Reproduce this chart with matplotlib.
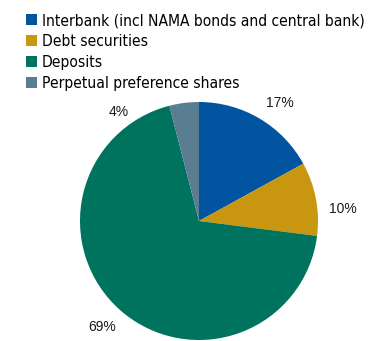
import matplotlib.pyplot as plt
from matplotlib.patches import Patch

categories = [
    "Interbank (incl NAMA bonds and central bank)",
    "Debt securities",
    "Deposits",
    "Perpetual preference shares",
]
shares = [17, 10, 69, 4]
colors = ["#0054A0", "#C8960F", "#00735F", "#5B7D92"]

fig = plt.figure(figsize=(3.79, 3.41), dpi=100)
ax = fig.add_axes([0, 0, 1, 1])

wedges, texts, autotexts = ax.pie(
    shares,
    colors=colors,
    startangle=90,
    counterclock=False,
    center=(199, 120),
    radius=119,
    frame=True,
    autopct="%d%%",
    pctdistance=1.2,
    wedgeprops=dict(linewidth=0),
    textprops=dict(family="Liberation Sans", fontsize=10, color="#1a1a1a"),
)
ax.axis("off")
ax.set_xlim(0, 379)
ax.set_ylim(0, 341)
ax.set_aspect("equal")

# label placement like the spreadsheet default
autotexts[0].set_position((280, 238))
autotexts[1].set_position((343, 132))
autotexts[2].set_position((102, 14))
autotexts[3].set_position((119, 229))

handles = [Patch(facecolor=c, edgecolor="none") for c in colors]
fig.legend(
    handles,
    categories,
    loc="upper left",
    bbox_to_anchor=(26 / 379, 1 - 13 / 341),
    frameon=False,
    prop=dict(family="DejaVu Sans", size=11.2, stretch="condensed"),
    handlelength=0.72,
    handleheight=0.72,
    handletextpad=0.3,
    labelspacing=0.38,
    borderaxespad=0,
    borderpad=0,
)

fig.savefig("out.png", dpi=100)
